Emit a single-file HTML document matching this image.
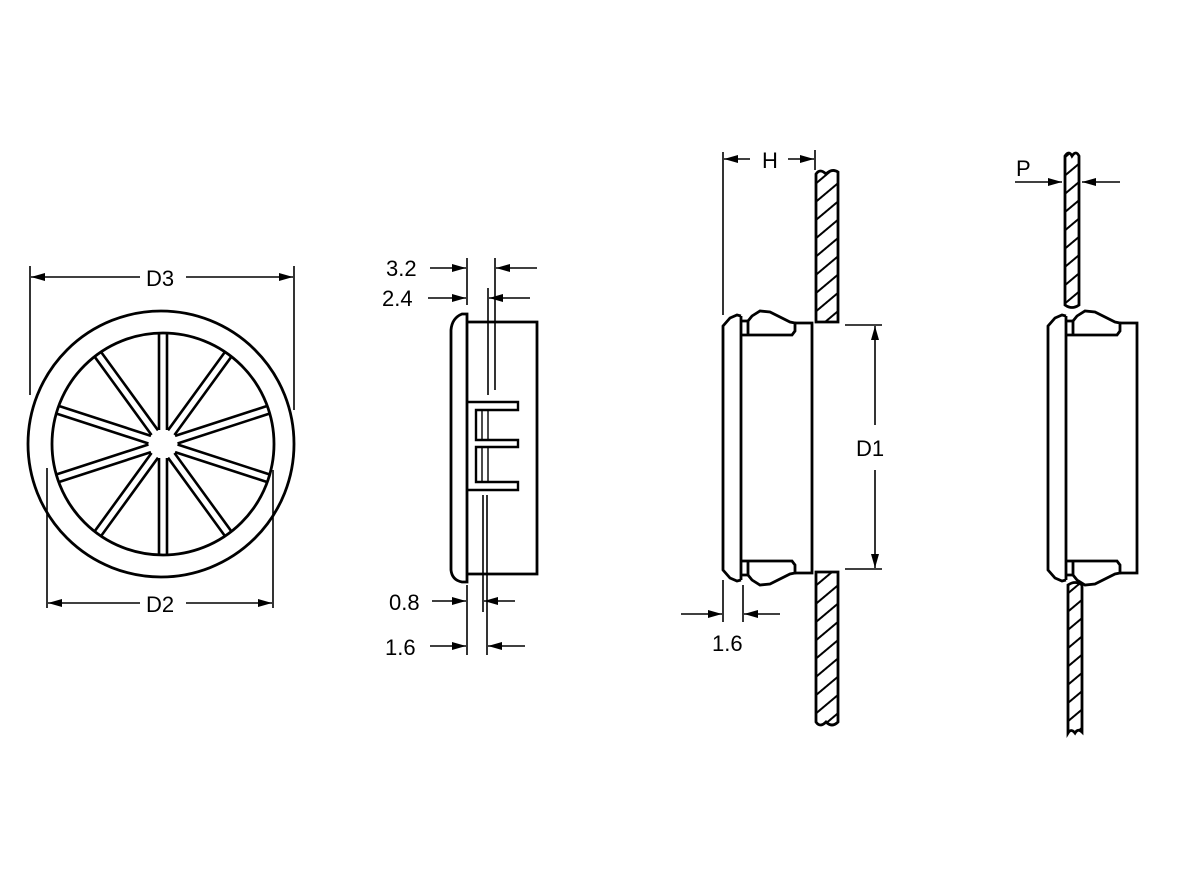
<!DOCTYPE html>
<html><head><meta charset="utf-8"><style>
html,body{margin:0;padding:0;background:#fff;}
svg{display:block;}
text{font-family:"Liberation Sans",sans-serif;font-size:22px;fill:#000;}
</style></head><body>
<svg width="1200" height="880" viewBox="0 0 1200 880" xmlns="http://www.w3.org/2000/svg">
<defs>
<marker id="a" viewBox="0 0 14 8" refX="14" refY="4" markerWidth="15" markerHeight="8" markerUnits="userSpaceOnUse" orient="auto"><path d="M0,0 L14,4 L0,8 Z" fill="#000"/></marker>
<pattern id="h" patternUnits="userSpaceOnUse" width="14" height="14" patternTransform="rotate(-40)"><line x1="0" y1="7" x2="14" y2="7" stroke="#000" stroke-width="2"/></pattern>
<g id="spoke"><path d="M-4,-14 L-4,-111 M4,-14 L4,-111" stroke="#000" stroke-width="2.6" fill="none"/></g>
</defs>
<g stroke="#000" fill="none" stroke-width="2.8">
<!-- View 1 -->
<circle cx="161" cy="444" r="133"/>
<circle cx="163" cy="444" r="111"/>
<g transform="translate(163,444)">
<use href="#spoke" transform="rotate(0)"/><use href="#spoke" transform="rotate(36)"/><use href="#spoke" transform="rotate(72)"/><use href="#spoke" transform="rotate(108)"/><use href="#spoke" transform="rotate(144)"/><use href="#spoke" transform="rotate(180)"/><use href="#spoke" transform="rotate(216)"/><use href="#spoke" transform="rotate(252)"/><use href="#spoke" transform="rotate(288)"/><use href="#spoke" transform="rotate(324)"/>
</g>
<g stroke-width="1.6">
<line x1="30" y1="266" x2="30" y2="395"/><line x1="294" y1="266" x2="294" y2="410"/>
<line x1="140" y1="277" x2="31" y2="277" marker-end="url(#a)"/><line x1="186" y1="277" x2="293" y2="277" marker-end="url(#a)"/>
<line x1="47" y1="468" x2="47" y2="608"/><line x1="273" y1="470" x2="273" y2="608"/>
<line x1="140" y1="603" x2="48" y2="603" marker-end="url(#a)"/><line x1="186" y1="603" x2="272" y2="603" marker-end="url(#a)"/>
</g>
<!-- View 2 -->
<path d="M467,314 L462,314 Q452,318 451,330 L451,570 Q452,580 462,582 L467,582 Z"/>
<path d="M467,322 L537,322 L537,574 L467,574"/>
<path d="M467,402 L518,402 L518,410 L476,410 L476,440 L518,440 L518,447 L476,447 L476,482 L518,482 L518,490 L467,490" stroke-width="2.4"/>
<line x1="482" y1="410" x2="482" y2="440" stroke-width="1.4"/><line x1="488" y1="410" x2="488" y2="440" stroke-width="1.4"/>
<line x1="482" y1="447" x2="482" y2="482" stroke-width="1.4"/><line x1="488" y1="447" x2="488" y2="482" stroke-width="1.4"/>
<g stroke-width="1.6">
<line x1="467" y1="258" x2="467" y2="305"/><line x1="495" y1="258" x2="495" y2="390"/>
<line x1="488" y1="288" x2="488" y2="395"/><line x1="483" y1="495" x2="483" y2="612"/><line x1="487" y1="495" x2="487" y2="655"/>
<line x1="467" y1="585" x2="467" y2="655"/>
<line x1="430" y1="268" x2="466" y2="268" marker-end="url(#a)"/><line x1="537" y1="268" x2="496" y2="268" marker-end="url(#a)"/>
<line x1="428" y1="298" x2="466" y2="298" marker-end="url(#a)"/><line x1="530" y1="298" x2="489" y2="298" marker-end="url(#a)"/>
<line x1="432" y1="601" x2="466" y2="601" marker-end="url(#a)"/><line x1="515" y1="601" x2="484" y2="601" marker-end="url(#a)"/>
<line x1="430" y1="646" x2="466" y2="646" marker-end="url(#a)"/><line x1="525" y1="646" x2="488" y2="646" marker-end="url(#a)"/>
</g>
<!-- Grommet profile -->
<g id="grom">
<g id="lip">
<path d="M723,448 L723,326 L730,318 L737,315 L741,316"/>
<path d="M741,448 L741,316"/>
<path d="M741,321 L748,321 L748,335"/>
<path d="M748,321 L752,316 L760,311 L770,312 L790,322 L795,323 L795,331 L792,335 L741,335"/>
<path d="M795,323 L812,323 L812,448"/>
</g>
<use href="#lip" transform="translate(0,896) scale(1,-1)"/>
</g>
<use href="#grom" transform="translate(325,0)"/>
<!-- View 3 walls -->
<path d="M816,174 Q820,168 826,174 Q832,168 838,172 L838,322 L816,322 Z" fill="url(#h)"/>
<path d="M816,572 L838,572 L838,722 Q832,728 826,722 Q820,728 816,722 Z" fill="url(#h)"/>
<g stroke-width="1.6">
<line x1="723" y1="152" x2="723" y2="315"/><line x1="815" y1="150" x2="815" y2="170"/>
<line x1="750" y1="159" x2="724" y2="159" marker-end="url(#a)"/><line x1="788" y1="159" x2="814" y2="159" marker-end="url(#a)"/>
<line x1="845" y1="325" x2="882" y2="325"/><line x1="845" y1="569" x2="882" y2="569"/>
<line x1="875" y1="425" x2="875" y2="326" marker-end="url(#a)"/><line x1="875" y1="470" x2="875" y2="568" marker-end="url(#a)"/>
<line x1="723" y1="580" x2="723" y2="622"/><line x1="743" y1="585" x2="743" y2="622"/>
<line x1="681" y1="614" x2="722" y2="614" marker-end="url(#a)"/><line x1="780" y1="614" x2="744" y2="614" marker-end="url(#a)"/>
</g>
<!-- View 4 walls -->
<path d="M1065,156 Q1069,150 1072,156 Q1076,150 1079,156 L1079,305 Q1072,310 1065,305 Z" fill="url(#h)"/>
<path d="M1068,585 Q1075,580 1082,585 L1082,732 Q1078,728 1075,733 Q1071,728 1068,733 Z" fill="url(#h)"/>
<g stroke-width="1.6">
<line x1="1015" y1="182" x2="1062" y2="182" marker-end="url(#a)"/><line x1="1120" y1="182" x2="1082" y2="182" marker-end="url(#a)"/>
</g>
</g>
<text x="146" y="286">D3</text>
<text x="146" y="612">D2</text>
<text x="386" y="276">3.2</text>
<text x="382" y="306">2.4</text>
<text x="389" y="610">0.8</text>
<text x="385" y="655">1.6</text>
<text x="762" y="168">H</text>
<text x="856" y="456">D1</text>
<text x="712" y="651">1.6</text>
<text x="1016" y="176">P</text>
</svg>
</body></html>
